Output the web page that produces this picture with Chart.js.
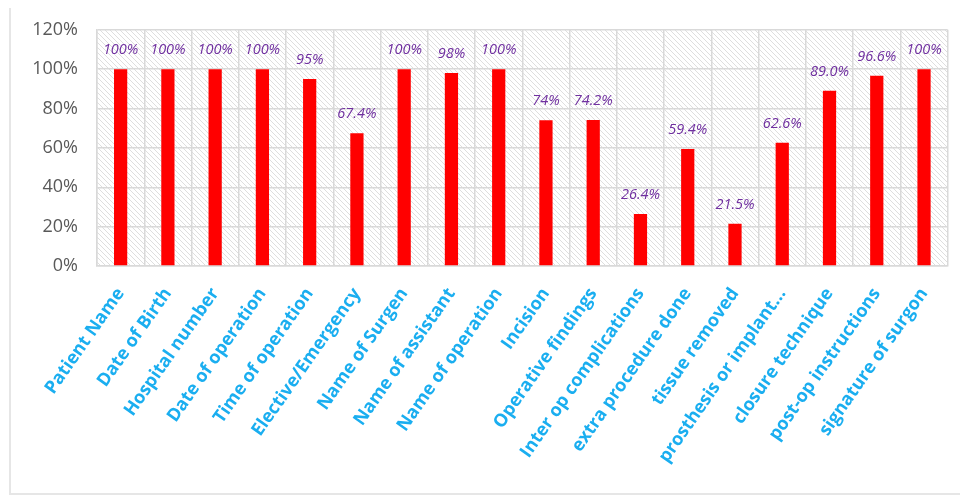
<!DOCTYPE html>
<html lang="en">
<head>
    <meta charset="UTF-8">
    <title>Operation Note Documentation</title>
    <script src="https://cdn.jsdelivr.net/npm/chart.js"></script>
    <style>
        body { margin: 0; background: #fff; }
        #wrap { position: relative; width: 960px; height: 496px; }
        #frame {
            position: absolute; left: 9px; top: 8px; right: 0; bottom: 1px;
            border-left: 2px solid #e6e6e6; border-bottom: 2px solid #e6e6e6;
            pointer-events: none;
        }
    </style>
</head>
<body>
    <div id="wrap">
        <canvas id="chart" width="960" height="496"></canvas>
        <div id="frame"></div>
    </div>

    <script>
        // Data
        const categories = [
            'Patient Name', 'Date of Birth', 'Hospital number', 'Date of operation',
            'Time of operation', 'Elective/Emergency', 'Name of Surgen', 'Name of assistant',
            'Name of operation', 'Incision', 'Operative findings', 'Inter op complications',
            'extra procedure done', 'tissue removed', 'prosthesis or implant\u2026',
            'closure technique', 'post-op instructions', 'signature of surgon'
        ];
        const values = [1, 1, 1, 1, 0.95, 0.674, 1, 0.98, 1, 0.74, 0.742, 0.264, 0.594, 0.215, 0.626, 0.89, 0.966, 1];
        const valueLabels = ['100%', '100%', '100%', '100%', '95%', '67.4%', '100%', '98%', '100%',
            '74%', '74.2%', '26.4%', '59.4%', '21.5%', '62.6%', '89.0%', '96.6%', '100%'];
        const yTicks = [0, 0.2, 0.4, 0.6, 0.8, 1.0, 1.2];

        // Diagonal hatch for plot background
        function makeHatch() {
            const c = document.createElement('canvas');
            c.width = 5; c.height = 5;
            const g = c.getContext('2d');
            g.fillStyle = '#ffffff';
            g.fillRect(0, 0, 5, 5);
            g.strokeStyle = '#dedede';
            g.lineWidth = 1;
            g.beginPath();
            g.moveTo(-1, -1); g.lineTo(6, 6);
            g.moveTo(-1, 4); g.lineTo(1, 6);
            g.moveTo(4, -1); g.lineTo(6, 1);
            g.stroke();
            return g.createPattern(c, 'repeat');
        }

        const hatchBackground = {
            id: 'hatchBackground',
            beforeDraw(chart) {
                const { ctx, chartArea: a } = chart;
                ctx.save();
                ctx.fillStyle = makeHatch();
                ctx.fillRect(a.left, a.top, a.right - a.left, a.bottom - a.top);
                ctx.restore();
            }
        };

        const barLabels = {
            id: 'barLabels',
            afterDatasetsDraw(chart) {
                const ctx = chart.ctx;
                const meta = chart.getDatasetMeta(0);
                ctx.save();
                ctx.font = 'italic 14.5px "Open Sans"';
                ctx.fillStyle = '#7030A0';
                ctx.textAlign = 'center';
                ctx.textBaseline = 'middle';
                meta.data.forEach((bar, i) => {
                    ctx.fillText(valueLabels[i], bar.x, bar.y - 19);
                });
                ctx.restore();
            }
        };

        new Chart(document.getElementById('chart'), {
            type: 'bar',
            data: {
                labels: categories,
                datasets: [{
                    data: values,
                    backgroundColor: '#FF0000',
                    barPercentage: 0.28,
                    categoryPercentage: 1
                }]
            },
            options: {
                responsive: false,
                animation: false,
                layout: { padding: { top: 29, right: 10, left: 0, bottom: 0 } },
                plugins: { legend: { display: false }, tooltip: { enabled: false } },
                scales: {
                    x: {
                        grid: { color: '#d9d9d9', lineWidth: 1.5, drawTicks: false },
                        border: { color: '#d9d9d9', width: 1.5 },
                        ticks: {
                            color: '#1AAEF0',
                            font: { family: 'Open Sans', size: 18, weight: 'bold' },
                            minRotation: 55,
                            maxRotation: 55,
                            autoSkip: false,
                            padding: 18
                        },
                        afterFit(scale) { scale.height = 230; }
                    },
                    y: {
                        min: 0,
                        max: 1.2,
                        afterBuildTicks(scale) { scale.ticks = yTicks.map(v => ({ value: v })); },
                        grid: { color: '#d9d9d9', lineWidth: 1.5, drawTicks: false },
                        border: { color: '#d9d9d9', width: 1.5 },
                        ticks: {
                            color: '#595959',
                            font: { family: 'Open Sans', size: 18 },
                            padding: 19,
                            callback: v => Math.round(v * 100) + '%'
                        },
                        afterFit(scale) { scale.width = 97; }
                    }
                }
            },
            plugins: [hatchBackground, barLabels]
        });
    </script>
</body>
</html>
